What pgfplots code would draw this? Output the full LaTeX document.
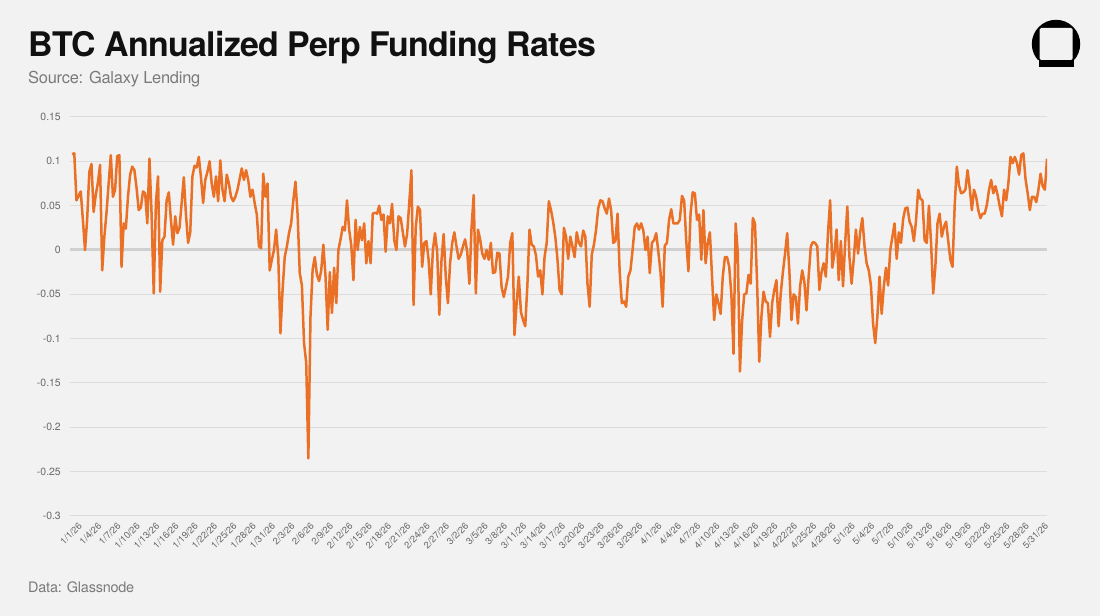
\documentclass[border=0pt]{standalone}
\usepackage{pgfplots}
\pgfplotsset{compat=1.18}
\usepackage{pgfplotstable}
\usepackage{fontspec}
\setmainfont{TeX Gyre Heros}
\newfontfamily\titlefont[LetterSpace=-2.0]{TeX Gyre Heros}
\newfontfamily\subfont[LetterSpace=-1.5]{TeX Gyre Heros}

\definecolor{bg}{HTML}{F2F2F2}
\definecolor{titleblack}{HTML}{111111}
\definecolor{subgray}{HTML}{7A7A7A}
\definecolor{tickgray}{HTML}{6A6A6A}
\definecolor{gridgray}{HTML}{DCDCDC}
\definecolor{zerogray}{HTML}{D0D0D0}
\definecolor{fundorange}{HTML}{EA7026}

% BTC perpetual funding rate, annualized, one value per 8-hour funding period from 1/1/26
\pgfplotstableread{
rate
0.108
0.109
0.056
0.061
0.066
0.034
0.000
0.035
0.088
0.097
0.043
0.062
0.076
0.096
-0.023
0.015
0.042
0.075
0.107
0.060
0.068
0.106
0.107
-0.019
0.030
0.024
0.060
0.085
0.094
0.090
0.070
0.045
0.048
0.066
0.064
0.030
0.103
0.040
-0.049
0.053
0.083
-0.047
0.011
0.015
0.056
0.065
0.034
0.006
0.038
0.019
0.025
0.053
0.082
0.040
0.008
0.020
0.083
0.095
0.093
0.105
0.082
0.053
0.079
0.088
0.100
0.075
0.060
0.083
0.055
0.101
0.068
0.055
0.085
0.075
0.060
0.055
0.060
0.068
0.080
0.092
0.079
0.090
0.079
0.060
0.068
0.053
0.040
0.004
0.002
0.086
0.060
0.075
-0.023
-0.011
0.000
0.023
-0.008
-0.094
-0.045
-0.008
0.004
0.019
0.030
0.056
0.077
0.040
-0.026
-0.040
-0.105
-0.127
-0.235
-0.075
-0.022
-0.008
-0.028
-0.035
-0.023
0.006
-0.030
-0.090
-0.025
-0.071
-0.020
-0.060
0.000
0.012
0.026
0.022
0.056
0.023
0.005
-0.034
0.034
0.000
0.026
0.011
0.030
-0.015
0.010
-0.015
0.041
0.042
0.041
0.050
0.034
0.040
-0.002
0.038
0.030
0.052
0.011
0.000
0.038
0.036
0.020
0.004
0.018
0.053
0.090
-0.062
0.025
0.049
0.045
-0.019
0.008
0.010
-0.011
-0.050
0.000
0.019
-0.002
-0.073
-0.012
0.018
-0.030
-0.060
-0.015
0.008
0.020
0.004
-0.010
-0.005
0.004
0.012
-0.002
-0.038
0.025
0.062
-0.049
0.023
0.012
-0.004
-0.010
0.000
-0.011
0.008
-0.026
-0.025
-0.003
-0.004
-0.042
-0.053
-0.042
-0.030
0.008
0.019
-0.096
-0.060
-0.030
-0.070
-0.079
-0.086
-0.040
0.023
0.006
0.004
-0.006
-0.030
-0.023
-0.050
-0.008
0.008
0.055
0.045
0.032
0.015
-0.010
-0.045
-0.050
0.025
0.015
-0.010
0.015
0.004
-0.008
0.020
0.008
0.004
0.022
0.015
-0.038
-0.064
-0.005
0.006
0.023
0.047
0.056
0.055
0.047
0.041
0.058
0.045
0.008
0.010
0.041
-0.025
-0.060
-0.058
-0.064
-0.030
-0.023
0.000
0.026
0.030
0.023
0.030
0.022
0.000
0.015
-0.026
0.008
0.011
0.019
-0.002
-0.025
-0.064
0.005
0.008
0.034
0.046
0.030
0.030
0.030
0.034
0.061
0.056
0.010
-0.024
0.041
0.065
0.064
0.034
0.040
-0.011
0.045
-0.015
0.008
0.020
-0.030
-0.079
-0.050
-0.060
-0.072
-0.030
-0.008
-0.008
-0.019
-0.050
-0.117
0.030
-0.004
-0.137
-0.080
-0.050
-0.049
-0.028
-0.038
0.036
0.030
-0.038
-0.126
-0.075
-0.047
-0.058
-0.060
-0.098
-0.060
-0.045
-0.034
-0.086
-0.049
-0.025
-0.004
0.019
-0.023
-0.079
-0.050
-0.053
-0.083
-0.041
-0.023
-0.036
-0.068
-0.030
0.004
0.009
0.008
0.004
-0.045
-0.025
-0.015
-0.030
0.019
0.056
-0.020
-0.004
0.023
-0.034
0.010
-0.041
0.008
0.049
-0.008
-0.038
-0.010
0.023
-0.004
0.020
0.036
0.005
-0.015
-0.023
-0.040
-0.083
-0.105
-0.075
-0.030
-0.072
-0.041
-0.020
-0.040
0.000
0.015
0.030
-0.010
0.020
0.008
0.035
0.047
0.048
0.032
0.026
0.010
0.033
0.068
0.058
0.056
0.011
0.008
0.050
0.008
-0.049
-0.019
0.030
0.041
0.015
0.026
0.032
0.010
-0.011
-0.019
0.050
0.094
0.073
0.064
0.065
0.068
0.090
0.070
0.045
0.068
0.060
0.045
0.036
0.041
0.041
0.051
0.068
0.079
0.064
0.072
0.062
0.049
0.038
0.068
0.056
0.075
0.105
0.098
0.105
0.098
0.085
0.107
0.109
0.080
0.064
0.045
0.060
0.060
0.054
0.068
0.086
0.072
0.068
0.103
}\ratedata

\begin{document}
\begin{tikzpicture}
  % page background
  \fill[bg] (0bp,0bp) rectangle (1100bp,616bp);

  % headings and source notes
  \node[anchor=base west, inner sep=0pt, text=titleblack,
        font=\titlefont\bfseries\fontsize{34}{36}\selectfont] at (28bp,559bp)
        {BTC Annualized Perp Funding Rates};
  \node[anchor=base west, inner sep=0pt, text=subgray,
        font=\subfont\fontsize{16.5}{18}\selectfont] at (28bp,532bp)
        {Source: Galaxy Lending};
  \node[anchor=base west, inner sep=0pt, text=subgray,
        font=\subfont\fontsize{14.5}{16}\selectfont] at (28bp,24bp)
        {Data: Glassnode};

  % logo mark
  \begin{scope}
    \clip (1028bp,556bp) rectangle (1084bp,600bp);
    \fill[black] (1056bp,572bp) circle (24.2bp);
  \end{scope}
  \fill[black] (1038.5bp,549.3bp) rectangle (1073.5bp,556.5bp);
  \fill[bg, rounded corners=1.5bp] (1039.5bp,556bp) rectangle (1072.5bp,588bp);

  \begin{axis}[
      at={(70bp,100bp)}, anchor=south west,
      width=977bp, height=399bp, scale only axis,
      xmin=-1, xmax=454,
      ymin=-0.3, ymax=0.15,
      axis line style={draw=none},
      major tick length=0pt,
      ytick={-0.3,-0.25,-0.2,-0.15,-0.1,-0.05,0,0.05,0.1,0.15},
      yticklabels={-0.3,-0.25,-0.2,-0.15,-0.1,-0.05,0,0.05,0.1,0.15},
      xtick={0,9,...,450},
      xticklabels={1/1/26,1/4/26,1/7/26,1/10/26,1/13/26,1/16/26,1/19/26,1/22/26,1/25/26,1/28/26,1/31/26,
        2/3/26,2/6/26,2/9/26,2/12/26,2/15/26,2/18/26,2/21/26,2/24/26,2/27/26,
        3/2/26,3/5/26,3/8/26,3/11/26,3/14/26,3/17/26,3/20/26,3/23/26,3/26/26,3/29/26,
        4/1/26,4/4/26,4/7/26,4/10/26,4/13/26,4/16/26,4/19/26,4/22/26,4/25/26,4/28/26,
        5/1/26,5/4/26,5/7/26,5/10/26,5/13/26,5/16/26,5/19/26,5/22/26,5/25/26,5/28/26,5/31/26},
      xmajorgrids=false,
      ymajorgrids=true,
      major grid style={draw=gridgray, line width=1bp},
      extra y ticks={0},
      extra y tick labels={},
      extra y tick style={grid=major, major grid style={draw=zerogray, line width=3bp}},
      yticklabel style={text=tickgray, font=\fontsize{10.5}{12}\selectfont, inner sep=0pt, xshift=-9bp},
      xticklabel style={text=tickgray, font=\fontsize{9.5}{11}\selectfont, rotate=45,
                        anchor=north east, inner sep=0pt, yshift=-8bp},
    ]
    \addplot[fundorange, line width=2.5bp, line join=round, mark=none]
      table[x expr=\coordindex, y index=0] {\ratedata};
  \end{axis}
\end{tikzpicture}
\end{document}
